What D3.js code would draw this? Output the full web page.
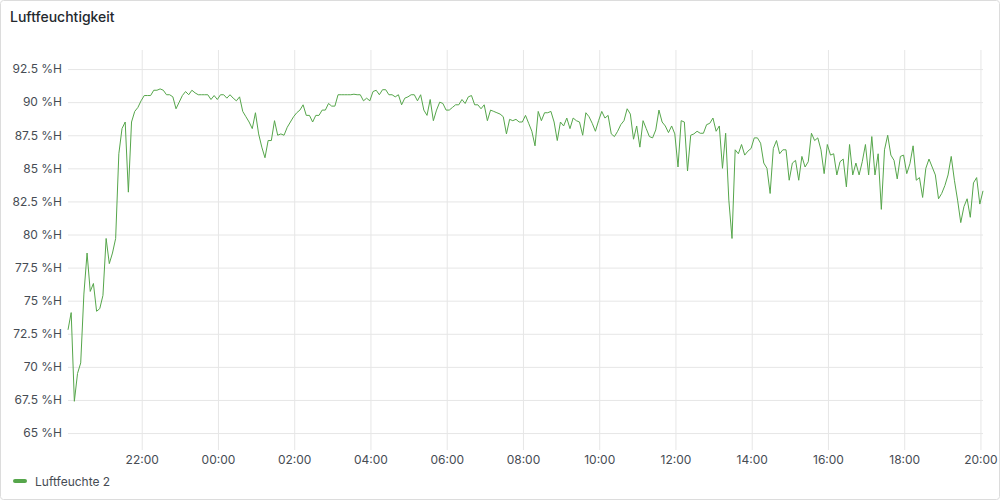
<!DOCTYPE html>
<html>
<head>
<meta charset="utf-8">
<script src="https://cdn.jsdelivr.net/npm/d3@7"></script>
<style>
	html, body { margin: 0; padding: 0; background: #fff; }
	svg { display: block; font-family: Inter, "Noto Sans", sans-serif; }
</style>
</head>
<body>
<svg width="1000" height="500"></svg>
<script>
const title = 'Luftfeuchtigkeit';
const seriesName = 'Luftfeuchte 2';

// readings every 5 minutes, starting 20:04
const startTime = new Date(2023, 0, 1, 20, 4);
const stepMinutes = 5;
const humidity = [
	72.8, 74.1, 67.4, 69.5, 70.3, 75.5, 78.6, 75.7, 76.3, 74.2, 74.4, 75.4,
	79.7, 77.8, 78.6, 79.7, 86.1, 88.0, 88.5, 83.2, 88.5, 89.3, 89.6, 90.1,
	90.5, 90.5, 90.5, 90.9, 90.9, 91.0, 90.9, 90.56, 90.56, 90.4, 89.5, 90.0,
	90.5, 90.8, 90.56, 90.9, 90.7, 90.56, 90.56, 90.56, 90.56, 90.2, 90.5, 90.2,
	90.56, 90.56, 90.3, 90.56, 90.3, 90.1, 90.4, 89.3, 88.9, 88.5, 88.0, 89.2,
	87.6, 86.6, 85.8, 87.1, 87.1, 88.6, 87.5, 87.6, 87.5, 88.1, 88.5, 88.9,
	89.2, 89.4, 89.8, 89.0, 89.0, 88.5, 89.0, 89.0, 89.4, 89.4, 89.9, 89.7,
	89.7, 90.56, 90.56, 90.56, 90.56, 90.56, 90.6, 90.56, 90.56, 90.1, 90.3, 90.1,
	90.8, 90.9, 90.56, 90.94, 90.94, 90.56, 90.56, 90.4, 90.56, 89.8, 90.3, 90.4,
	90.56, 90.56, 90.1, 90.56, 89.4, 89.0, 90.2, 88.6, 89.4, 90.0, 89.9, 89.4,
	89.4, 89.6, 89.8, 89.8, 90.2, 89.9, 90.4, 90.5, 89.8, 89.8, 89.5, 89.8,
	88.6, 89.4, 89.3, 89.2, 89.1, 88.9, 87.6, 88.7, 88.6, 88.7, 88.5, 88.5,
	89.0, 88.4, 87.8, 86.7, 89.3, 88.6, 89.2, 89.2, 89.3, 88.5, 87.1, 88.5,
	88.2, 88.8, 88.0, 88.8, 88.6, 88.5, 87.5, 89.2, 88.9, 88.4, 87.8, 88.6,
	89.3, 88.8, 89.0, 87.6, 87.4, 87.8, 88.3, 88.6, 89.5, 89.1, 87.2, 88.2,
	86.6, 88.6, 88.0, 87.4, 87.3, 87.9, 89.4, 88.5, 88.2, 87.7, 88.2, 87.6,
	85.1, 88.6, 88.5, 84.8, 87.5, 87.6, 87.8, 87.65, 87.65, 88.3, 88.4, 88.8,
	87.8, 88.2, 85.0, 87.65, 82.6, 79.7, 86.4, 86.1, 86.8, 86.0, 86.3, 86.5,
	87.3, 87.3, 86.9, 85.4, 85.0, 83.1, 86.5, 87.1, 86.1, 86.4, 86.4, 84.1,
	85.4, 85.6, 84.1, 85.9, 85.1, 85.5, 87.65, 87.1, 87.3, 86.4, 84.6, 86.8,
	86.0, 86.1, 84.5, 85.5, 85.7, 83.6, 86.8, 84.5, 85.4, 84.5, 85.5, 86.8,
	84.5, 87.4, 84.5, 86.1, 81.9, 86.4, 87.5, 86.0, 85.6, 84.2, 85.9, 86.0,
	84.6, 85.35, 86.7, 84.1, 84.3, 82.8, 85.0, 85.7, 85.1, 84.5, 82.7, 83.1,
	83.7, 84.5, 85.9, 84.1, 82.6, 80.9, 82.1, 82.7, 81.3, 83.9, 84.3, 82.3,
	83.3
];
const yTicks = [65, 67.5, 70, 72.5, 75, 77.5, 80, 82.5, 85, 87.5, 90, 92.5];
const timeWindow = [new Date(2023, 0, 1, 20, 4), new Date(2023, 0, 2, 20, 4)];
const yDomain = [63.72, 93.94];

const lineColor = '#56a64b';
const textColor = '#464c54';
const gridColor = '#e6e6e6';

const svg = d3.select('svg');
const plot = { left: 68, right: 983, top: 50, bottom: 450 };

const points = humidity.map((v, i) => ({
	time: d3.timeMinute.offset(startTime, i * stepMinutes),
	value: v
}));

const x = d3.scaleTime().domain(timeWindow).range([plot.left, plot.right]);
const y = d3.scaleLinear().domain(yDomain).range([plot.bottom, plot.top]);

// panel frame
svg.append('rect')
	.attr('x', 0.5).attr('y', 0.5)
	.attr('width', 999).attr('height', 499)
	.attr('rx', 3)
	.attr('fill', '#fff')
	.attr('stroke', '#dcdcdc');

svg.append('text')
	.attr('x', 10).attr('y', 22)
	.attr('font-size', 14)
	.attr('font-weight', 500)
	.attr('fill', '#24292e')
	.text(title);

// y axis with grid
const yAxis = d3.axisLeft(y)
	.tickValues(yTicks)
	.tickSize(-(plot.right - plot.left))
	.tickPadding(6)
	.tickFormat(d => d3.format('~g')(d) + ' %H');

const gy = svg.append('g')
	.attr('transform', `translate(${plot.left},0)`)
	.call(yAxis);
gy.select('.domain').remove();
gy.selectAll('line').attr('stroke', gridColor);
gy.selectAll('text')
	.attr('font-size', 12)
	.attr('font-family', 'Inter, sans-serif')
	.attr('fill', textColor);

// x axis with grid
const xAxis = d3.axisBottom(x)
	.ticks(d3.timeHour.every(2))
	.tickSize(-(plot.bottom - plot.top))
	.tickPadding(5)
	.tickFormat(d3.timeFormat('%H:%M'));

const gx = svg.append('g')
	.attr('transform', `translate(0,${plot.bottom})`)
	.call(xAxis);
gx.select('.domain').remove();
gx.selectAll('line').attr('stroke', gridColor);
gx.selectAll('text')
	.attr('font-size', 12)
	.attr('font-family', 'Inter, sans-serif')
	.attr('fill', textColor);

// the series
const line = d3.line()
	.x(d => x(d.time))
	.y(d => y(d.value));

svg.append('path')
	.datum(points)
	.attr('d', line)
	.attr('fill', 'none')
	.attr('stroke', lineColor)
	.attr('stroke-width', 1)
	.attr('stroke-linejoin', 'round');

// legend
const legend = svg.append('g').attr('transform', 'translate(13,481)');
legend.append('rect')
	.attr('x', 0).attr('y', -2)
	.attr('width', 14).attr('height', 4)
	.attr('rx', 2)
	.attr('fill', lineColor);
legend.append('text')
	.attr('x', 22).attr('y', 4.5)
	.attr('font-size', 12)
	.attr('fill', textColor)
	.text(seriesName);
</script>
</body>
</html>
